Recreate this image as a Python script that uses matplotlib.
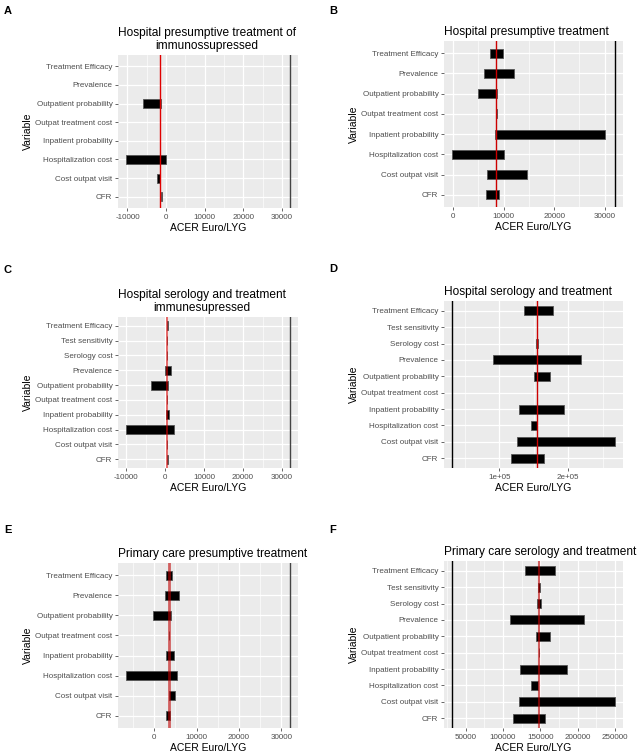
import matplotlib
matplotlib.use('Agg')
import matplotlib.pyplot as plt
from matplotlib.ticker import MultipleLocator, FuncFormatter

plt.rcParams['font.family'] = ['Liberation Sans', 'DejaVu Sans']

W, H = 640, 752

vars8 = ["CFR", "Cost outpat visit", "Hospitalization cost", "Inpatient probability",
         "Outpat treatment cost", "Outpatient probability", "Prevalence", "Treatment Efficacy"]
vars10 = ["CFR", "Cost outpat visit", "Hospitalization cost", "Inpatient probability",
          "Outpat treatment cost", "Outpatient probability", "Prevalence", "Serology cost",
          "Test sensitivity", "Treatment Efficacy"]

# Panel A
a_low = [-1460, -2300, -10340, -1550, -1550, -6030, -1550, -1550]
a_high = [-1120, -1640, 0, -1550, -1550, -1290, -1550, -1550]
a_base = -1550
# Panel B
b_low = [6460, 6790, -200, 8300, 8500, 5010, 6200, 7250]
b_high = [9030, 14700, 10020, 30000, 8770, 8700, 12000, 9820]
b_base = 8500
# Panel C
c_low = [450, 500, -10000, 100, 500, -3590, 0, 500, 500, 350]
c_high = [650, 600, 2300, 1100, 600, 770, 1450, 600, 600, 700]
c_base = 550
# Panel D
d_low = [117300, 125500, 146200, 129300, 155300, 150500, 90400, 153900, 155300, 135600]
d_high = [164900, 267300, 155300, 194200, 155300, 173100, 218300, 156700, 155300, 177400]
d_base = 155300
# Panel E
e_low = [2880, 3500, -6620, 2730, 3500, -230, 2500, 2800]
e_high = [3660, 4900, 5380, 4750, 3500, 3900, 5770, 4200]
e_base = 3500
# Panel F
f_low = [113800, 121300, 137700, 123500, 148200, 144700, 109000, 146000, 147300, 129200]
f_high = [156200, 249800, 147400, 185300, 148200, 162800, 208400, 150800, 149100, 169800]
f_base = 148200

threshold = 32000

fig = plt.figure(figsize=(W / 100, H / 100), dpi=100)


def rect(x0, y0, x1, y1):
    return [x0 / W, 1 - y1 / H, (x1 - x0) / W, (y1 - y0) / H]


def panel(letter, lpos, box, title, cats, low, high, base, major, minor,
          fmt=None, red=dict(color='#E00000', lw=1.0, alpha=1.0), thr_color='black'):
    ax = fig.add_axes(rect(*box))
    ax.set_facecolor('#EBEBEB')
    n = len(cats)
    ys = list(range(1, n + 1))
    panel_h = box[3] - box[1]
    unit_px = panel_h / (n - 1 + 1.2)
    bh = 9.0 / unit_px
    lefts = [min(l, h) for l, h in zip(low, high)]
    widths = [abs(h - l) for l, h in zip(low, high)]
    ax.barh(ys, widths, left=lefts, height=bh, color='black', edgecolor='#555555',
            linewidth=0.6, zorder=3)
    ax.axvline(threshold, color=thr_color, lw=1.0, zorder=2)
    ax.axvline(base, zorder=4, **red)
    lo = min(min(low), threshold)
    hi = max(max(high), threshold)
    pad = (hi - lo) * 0.05
    ax.set_xlim(lo - pad, hi + pad)
    ax.set_ylim(0.4, n + 0.6)
    ax.set_yticks(ys)
    ax.set_yticklabels(cats)
    ax.xaxis.set_major_locator(MultipleLocator(major))
    ax.xaxis.set_minor_locator(MultipleLocator(minor))
    if fmt is not None:
        ax.xaxis.set_major_formatter(FuncFormatter(fmt))
    else:
        ax.xaxis.set_major_formatter(FuncFormatter(lambda v, p: f"{int(round(v))}"))
    ax.grid(which='major', color='white', lw=0.9, zorder=0)
    ax.grid(which='minor', axis='x', color='white', lw=0.45, zorder=0)
    ax.set_axisbelow(True)
    for s in ax.spines.values():
        s.set_visible(False)
    ax.tick_params(which='major', length=2.5, width=0.6, color='#4D4D4D',
                   labelsize=5.8, labelcolor='#4D4D4D', pad=1.5)
    ax.tick_params(which='minor', length=0)
    ax.set_xlabel('ACER Euro/LYG', fontsize=7.5, labelpad=1.5)
    ax.set_ylabel('Variable', fontsize=7.5, labelpad=2)
    ax.set_title(title, loc='left', fontsize=8.6, ma='center', pad=4)
    fig.text(lpos[0] / W, 1 - lpos[1] / H, letter, fontsize=8, fontweight='bold',
             ha='center', va='center')
    return ax


sci = lambda v, p: f"{v:.0e}"

panel('A', (8, 11), (118, 55, 298, 208),
      'Hospital presumptive treatment of\nimmunossupressed',
      vars8, a_low, a_high, a_base, 10000, 5000,
      red=dict(color='#E00000', lw=1.0), thr_color='#444444')
panel('B', (333, 11), (444, 41, 623, 207),
      'Hospital presumptive treatment',
      vars8, b_low, b_high, b_base, 10000, 5000,
      red=dict(color='#CC0000', lw=1.0), thr_color='black')
panel('C', (8, 270), (118, 317, 298, 468),
      'Hospital serology and treatment\nimmunesupressed',
      vars10, c_low, c_high, c_base, 10000, 5000,
      red=dict(color='#E00000', lw=1.3, alpha=0.6), thr_color='#444444')
panel('D', (333, 269), (444, 301, 623, 468),
      'Hospital serology and treatment',
      vars10, d_low, d_high, d_base, 100000, 50000, fmt=sci,
      red=dict(color='#CC0000', lw=1.0), thr_color='black')
panel('E', (8, 530), (118, 563, 298, 728),
      'Primary care presumptive treatment',
      vars8, e_low, e_high, e_base, 10000, 5000,
      red=dict(color='#C00000', lw=2.0, alpha=0.6), thr_color='#444444')
panel('F', (333, 530), (444, 561, 623, 728),
      'Primary care serology and treatment',
      vars10, f_low, f_high, f_base, 50000, 25000,
      red=dict(color='#C00000', lw=1.5, alpha=0.6), thr_color='black')

fig.savefig('out.png', dpi=100, facecolor='white')
